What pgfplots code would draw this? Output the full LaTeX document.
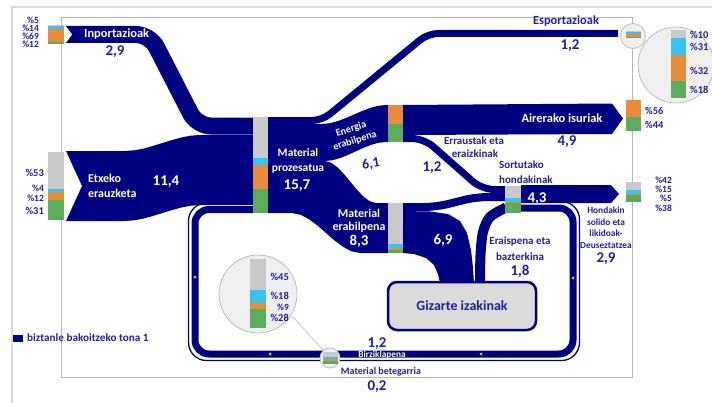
\documentclass[border=0pt]{standalone}
\usepackage{fontspec}
\setmainfont{Carlito}
\usepackage{pgfplots}
\pgfplotsset{compat=1.18}
\definecolor{flow}{RGB}{0,0,128}
\definecolor{tb}{RGB}{32,32,160}
\definecolor{cgray}{RGB}{201,201,201}
\definecolor{ccyan}{RGB}{55,196,240}
\definecolor{corange}{RGB}{232,139,58}
\definecolor{cgreen}{RGB}{91,173,91}
\definecolor{circ}{RGB}{239,239,239}
\definecolor{circb}{RGB}{190,190,190}
\newcommand{\seg}[5]{\addplot[fill=#5,draw=none] coordinates {(#1,#3)(#2,#3)(#2,#4)(#1,#4)} -- cycle;}
\newcommand{\fw}{\fontsize{12}{13}\selectfont\bfseries}
\newcommand{\fW}{\fontsize{12.5}{13}\selectfont\bfseries}
\newcommand{\fv}{\fontsize{15}{16}\selectfont\bfseries}
\newcommand{\fs}{\fontsize{11}{12}\selectfont\bfseries}
\newcommand{\fp}{\fontsize{10.5}{11}\selectfont\bfseries}
\newcommand{\fq}{\fontsize{9.5}{10}\selectfont\bfseries}
\newcommand{\fxs}{\fontsize{9.4}{10}\selectfont\bfseries}
\begin{document}
\begin{tikzpicture}
\begin{axis}[width=712bp,height=403bp,scale only axis,xmin=0,xmax=712,ymin=0,ymax=403,
  y dir=reverse,hide axis,clip=true,clip marker paths=true]
% background and frames
\addplot[fill=white,draw=none] coordinates {(0,0)(712,0)(712,403)(0,403)} -- cycle;
\addplot[draw=black!14,line width=2bp] coordinates {(12,403)(12,7)(712,7)};
\addplot[draw=black!28,line width=0.8bp] coordinates {(61,17)(632,17)(632,377)(61,377)(61,17)};
% recycling loop
\addplot[draw=flow,line width=1.3bp,rounded corners=18bp] coordinates {(521,201.5)(579.5,201.5)(579.5,360.5)(188.5,360.5)(188.5,203)(253,203)};
\addplot[draw=flow,line width=7bp,rounded corners=14bp] coordinates {(521,208)(573,208)(573,354)(195,354)(195,209.5)(253,209.5)};
% Inportazioak
\addplot[draw=flow,line width=17bp,rounded corners=14bp] coordinates {(66,34.5)(150,34.5)(197,126)(253,126)};
\addplot[fill=white,draw=none] coordinates {(65,25)(72,34.5)(65,44)} -- cycle;
% Etxeko erauzketa
\addplot[fill=flow,draw=none] coordinates {(66,151)(125,151)(134.4,150.3)(143.75,148.5)(153.1,145.9)(162.5,143)(171.9,140.1)(181.25,137.5)(190.6,135.7)(200,135)(253,135)(253,205)(200,205)(190.6,205.7)(181.25,207.5)(171.9,210.1)(162.5,213)(153.1,215.9)(143.75,218.5)(134.4,220.3)(125,221)(66,221)(82,186)} -- cycle;
% Esportazioak
\addplot[draw=flow,line width=7bp,rounded corners=10bp] coordinates {(268,120.5)(322,120.5)(428,33.5)(618,33.5)};
% Energia erabilpena
\addplot[fill=flow,draw=none] coordinates {(268,124)(322,124)(330,123.2)(338,121)(346,118)(354,114.5)(362,111)(370,108)(378,105.8)(386,105)(388,105)(388,142)(386,142)(378.4,142.8)(370.75,145)(363.1,148)(355.5,151.5)(347.9,155)(340.25,158)(332.6,160.2)(325,161)(268,161)} -- cycle;
% Material erabilpena
\addplot[fill=flow,draw=none] coordinates {(268,161)(325,161)(331.4,162.8)(337.75,167.6)(344.1,174.3)(350.5,182)(356.9,189.7)(363.25,196.4)(369.6,201.2)(376,203)(388,203)(388,253)(360,253)(351.5,251.3)(343,246.8)(334.5,240.4)(326,233)(317.5,225.6)(309,219.2)(300.5,214.7)(292,213)(268,213)} -- cycle;
% Airerako isuriak
\addplot[fill=flow,draw=none] coordinates {(403,105)(612,103.5)(623,118.5)(612,134)(403,135)} -- cycle;
% Errautsak
\addplot[draw=flow,line width=7bp,rounded corners=12bp] coordinates {(403,138.5)(424,138.5)(482,189.5)(506,189.5)};
% Material erabilpena -> Sortutako
\addplot[draw=flow,line width=8bp,rounded corners=12bp] coordinates {(403,207)(436,207)(476,197)(506,197)};
% 6,9 funnel
\addplot[fill=flow,draw=none] coordinates {(403,211)(430,211.5)(448,214)(460,221)(467,233)(471,250)(473,268)(474,283)(440,283)(438,274)(434,265)(426,258)(414,254)(403,253)} -- cycle;
% Eraispena
\addplot[draw=flow,line width=10bp,smooth] coordinates {(480,284)(480.5,255)(483,232)(490,217)(506,207.5)};
% Hondakin
\addplot[fill=flow,draw=none] coordinates {(521,185)(611,185)(619,194)(611,203)(521,203)} -- cycle;
% Gizarte izakinak box
\addplot[fill=gray!28,draw=flow,line width=2.5bp,rounded corners=9bp] coordinates {(388,282)(536,282)(536,330)(388,330)} -- cycle;
% circles
\addplot[draw=circb,line width=0.6bp] coordinates {(292,316)(324,351)};
\addplot[only marks,mark=*,mark size=38bp,mark options={fill=circ,draw=circb,line width=0.8bp}] coordinates {(676,65)};
\addplot[only marks,mark=*,mark size=39bp,mark options={fill=circ,draw=circb,line width=0.8bp}] coordinates {(258,294)};
\addplot[only marks,mark=*,mark size=12.5bp,mark options={fill=circ,draw=circb,line width=0.8bp}] coordinates {(633,36)};
\addplot[only marks,mark=*,mark size=10bp,mark options={fill=circ,draw=circb,line width=0.8bp}] coordinates {(330,358)};
% loop arrows
\addplot[only marks,mark=triangle*,mark size=2.5bp,mark options={fill=black!25,draw=none}] coordinates {(195,277)};
\addplot[only marks,mark=triangle*,mark size=2.5bp,mark options={fill=black!25,draw=none,rotate=90}] coordinates {(270,354)(481,354)};
\addplot[only marks,mark=triangle*,mark size=2.5bp,mark options={fill=black!25,draw=none,rotate=180}] coordinates {(573,278)};
% stacked bars
\seg{48}{64}{25}{26}{cgray}\seg{48}{64}{26}{28.7}{ccyan}\seg{48}{64}{28.7}{42.2}{corange}\seg{48}{64}{42.2}{44.5}{cgreen}
\seg{48}{64}{152}{188.5}{cgray}\seg{48}{64}{188.5}{191.5}{ccyan}\seg{48}{64}{191.5}{199.5}{corange}\seg{48}{64}{199.5}{220}{cgreen}
\seg{253}{268}{117}{158}{cgray}\seg{253}{268}{158}{165}{ccyan}\seg{253}{268}{165}{189}{corange}\seg{253}{268}{189}{213}{cgreen}
\seg{388}{403}{105}{124}{corange}\seg{388}{403}{124}{142}{cgreen}
\seg{388}{403}{203}{244}{cgray}\seg{388}{403}{244}{248}{ccyan}\seg{388}{403}{248}{249.5}{corange}\seg{388}{403}{249.5}{253}{cgreen}
\seg{505}{521}{186}{198}{cgray}\seg{505}{521}{198}{202}{ccyan}\seg{505}{521}{202}{203}{corange}\seg{505}{521}{203}{213}{cgreen}
\seg{626}{641}{100}{117}{corange}\seg{626}{641}{117}{131}{cgreen}
\seg{626}{641}{182}{190.4}{cgray}\seg{626}{641}{190.4}{194}{ccyan}\seg{626}{641}{194}{195.2}{corange}\seg{626}{641}{195.2}{202}{cgreen}
\seg{671}{686}{30}{38}{cgray}\seg{671}{686}{38}{55}{ccyan}\seg{671}{686}{55}{81}{corange}\seg{671}{686}{81}{98}{cgreen}
\seg{626}{641}{31.5}{32.5}{cgray}\seg{626}{641}{32.5}{34.5}{ccyan}\seg{626}{641}{34.5}{37}{corange}\seg{626}{641}{37}{38.5}{cgreen}
\seg{250}{266}{259}{290}{cgray}\seg{250}{266}{290}{303}{ccyan}\seg{250}{266}{303}{309}{corange}\seg{250}{266}{309}{328}{cgreen}
\seg{323}{338}{352}{357}{cgray}\seg{323}{338}{357}{359}{ccyan}\seg{323}{338}{359}{360.5}{corange}\seg{323}{338}{360.5}{364}{cgreen}
% legend square
\seg{13}{23}{335}{342}{flow}
% labels
\begin{scope}[every node/.style={inner sep=0pt}]
\node[text=white,font=\fW,anchor=west] at (axis cs:84,34) {Inportazioak};
\node[text=tb,font=\fv] at (axis cs:115,52) {2,9};
\node[text=white,font=\fw,anchor=west] at (axis cs:88,178) {Etxeko};
\node[text=white,font=\fw,anchor=west] at (axis cs:88,193) {erauzketa};
\node[text=white,font=\fv] at (axis cs:166,182) {11,4};
\node[text=white,font=\fontsize{11.5}{12}\selectfont\bfseries] at (axis cs:298,153) {Material};
\node[text=white,font=\fontsize{11.5}{12}\selectfont\bfseries] at (axis cs:298,169) {prozesatua};
\node[text=white,font=\fv] at (axis cs:297,186) {15,7};
\node[text=tb,font=\fW] at (axis cs:566,21) {Esportazioak};
\node[text=tb,font=\fv] at (axis cs:570,46) {1,2};
\node[text=white,font=\fontsize{10.2}{12.5}\selectfont\bfseries,rotate=18,align=center] at (axis cs:353,135) {Energia\\erabilpena};
\node[text=tb,font=\fontsize{14}{15}\selectfont\bfseries,rotate=10] at (axis cs:371,164) {6,1};
\node[text=white,font=\fW] at (axis cs:562,118) {Airerako isuriak};
\node[text=tb,font=\fv] at (axis cs:567,142) {4,9};
\node[text=tb,font=\fs] at (axis cs:474,141) {Erraustak eta};
\node[text=tb,font=\fs] at (axis cs:475,154) {eraizkinak};
\node[text=tb,font=\fv] at (axis cs:432,168) {1,2};
\node[text=tb,font=\fs,anchor=west] at (axis cs:499,165) {Sortutako};
\node[text=tb,font=\fs,anchor=west] at (axis cs:499,180) {hondakinak};
\node[text=white,font=\fv] at (axis cs:537,199) {4,3};
\node[text=tb,font=\fxs] at (axis cs:606,210) {Hondakin};
\node[text=tb,font=\fxs] at (axis cs:606,222) {solido eta};
\node[text=tb,font=\fxs] at (axis cs:606,233.5) {likidoak-};
\node[text=tb,font=\fxs] at (axis cs:606,245) {Deuseztatzea};
\node[text=tb,font=\fv] at (axis cs:606,259) {2,9};
\node[text=white,font=\fw] at (axis cs:359,213) {Material};
\node[text=white,font=\fw] at (axis cs:359,227) {erabilpena};
\node[text=white,font=\fv] at (axis cs:359,241) {8,3};
\node[text=white,font=\fv] at (axis cs:443,240) {6,9};
\node[text=tb,font=\fs] at (axis cs:520,242) {Eraispena eta};
\node[text=tb,font=\fs] at (axis cs:520,257) {bazterkina};
\node[text=tb,font=\fv] at (axis cs:520,271) {1,8};
\node[text=tb,font=\fontsize{14}{15}\selectfont\bfseries] at (axis cs:462,306) {Gizarte izakinak};
\node[text=tb,font=\fv] at (axis cs:377,344) {1,2};
\node[text=white,font=\fontsize{9.3}{10}\selectfont\bfseries] at (axis cs:382,355) {Birziklapena};
\node[text=tb,font=\fontsize{10}{11}\selectfont\bfseries] at (axis cs:381,372) {Material betegarria};
\node[text=tb,font=\fv] at (axis cs:377,387) {0,2};
% percentages
\node[text=tb,font=\fq,anchor=east] at (axis cs:39,20) {\%5};
\node[text=tb,font=\fq,anchor=east] at (axis cs:39,28) {\%14};
\node[text=tb,font=\fq,anchor=east] at (axis cs:39,36) {\%69};
\node[text=tb,font=\fq,anchor=east] at (axis cs:39,44) {\%12};
\node[text=tb,font=\fp,anchor=east] at (axis cs:44,173) {\%53};
\node[text=tb,font=\fq,anchor=east] at (axis cs:44,188) {\%4};
\node[text=tb,font=\fq,anchor=east] at (axis cs:44,198) {\%12};
\node[text=tb,font=\fp,anchor=east] at (axis cs:44,211) {\%31};
\node[text=tb,font=\fp,anchor=west] at (axis cs:645,110.5) {\%56};
\node[text=tb,font=\fp,anchor=west] at (axis cs:645,125) {\%44};
\node[text=tb,font=\fq,anchor=east] at (axis cs:672,180) {\%42};
\node[text=tb,font=\fq,anchor=east] at (axis cs:672,189) {\%15};
\node[text=tb,font=\fq,anchor=east] at (axis cs:672,198) {\%5};
\node[text=tb,font=\fq,anchor=east] at (axis cs:672,208) {\%38};
\node[text=tb,font=\fp,anchor=west] at (axis cs:690,35) {\%10};
\node[text=tb,font=\fp,anchor=west] at (axis cs:690,47) {\%31};
\node[text=tb,font=\fp,anchor=west] at (axis cs:690,71) {\%32};
\node[text=tb,font=\fp,anchor=west] at (axis cs:690,90) {\%18};
\node[text=tb,font=\fp,anchor=east] at (axis cs:289,277) {\%45};
\node[text=tb,font=\fp,anchor=east] at (axis cs:289,296) {\%18};
\node[text=tb,font=\fq,anchor=east] at (axis cs:289,307) {\%9};
\node[text=tb,font=\fp,anchor=east] at (axis cs:289,318) {\%28};
\node[text=tb,font=\fontsize{11.2}{12}\selectfont\bfseries,anchor=west] at (axis cs:27,338) {biztanle bakoitzeko tona 1};
\end{scope}
\end{axis}
\end{tikzpicture}
\end{document}
